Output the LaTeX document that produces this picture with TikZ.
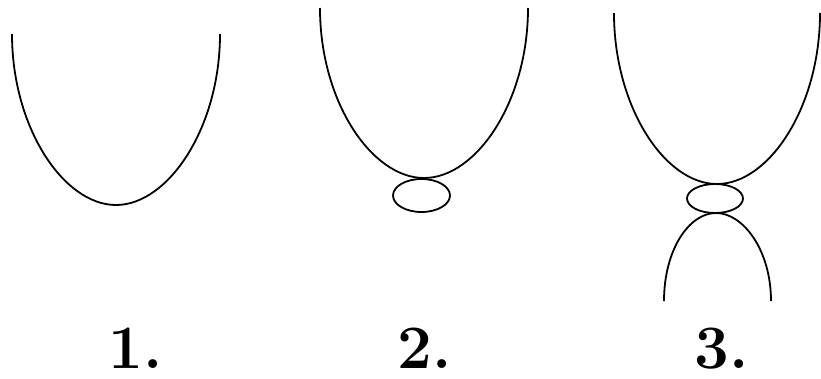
\documentclass[tikz,border=0pt]{standalone}
\usepackage{tikz}
\usetikzlibrary{positioning}
\tikzset{
  curveline/.style={line width=1.8bp,black},
  numlabel/.style={anchor=base,inner sep=0pt,font=\fontsize{62}{62}\selectfont\bfseries}
}
\begin{document}
\begin{tikzpicture}[x=1bp,y=-1bp]
\useasboundingbox (0,0) rectangle (821,378);
% 1. single bowl
\draw[curveline] (12,34) .. controls (12,128) and (64,205) .. (116,205)
  .. controls (168,205) and (220,128) .. (220,34);
\node[numlabel] (lab1) at (136,368) {1.};
% 2. bowl with small loop underneath
\draw[curveline] (320,8) .. controls (320,102) and (372,178) .. (424,178)
  .. controls (476,178) and (528,102) .. (528,8);
\draw[curveline] (421.5,195.5) ellipse [x radius=28.5,y radius=16.5];
\node[numlabel] (lab2) at (425,368) {2.};
% 3. bowl, loop and arch below
\draw[curveline] (614,13) .. controls (614,107) and (665,184) .. (717,184)
  .. controls (769,184) and (820,107) .. (820,13);
\draw[curveline] (715,198.5) ellipse [x radius=28,y radius=14.5];
\draw[curveline] (664,301) .. controls (664,250) and (689,213) .. (716,213)
  .. controls (743,213) and (771,250) .. (771,301);
\node[numlabel] (lab3) at (722,368) {3.};
\end{tikzpicture}
\end{document}
